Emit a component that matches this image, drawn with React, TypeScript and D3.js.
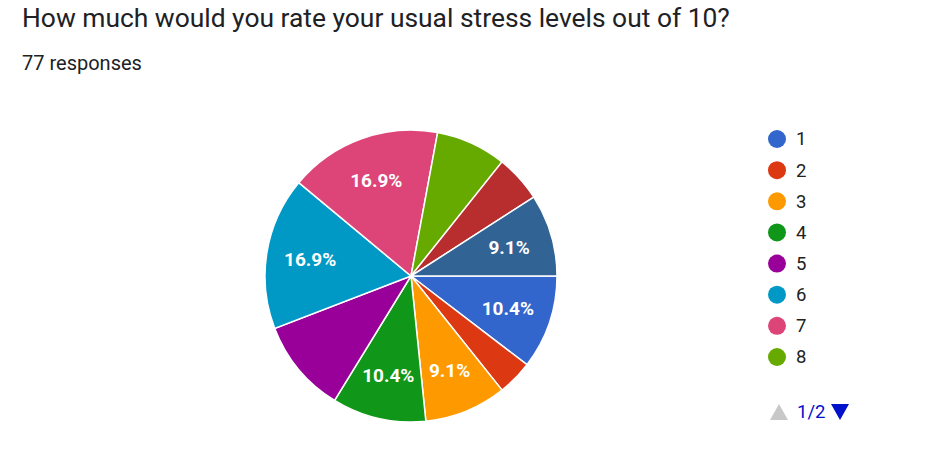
import { useEffect, useRef } from "react";
import * as d3 from "d3";

// stress rating options and response counts (77 total)
const ratings = ["1", "2", "3", "4", "5", "6", "7", "8", "9", "10"];
const counts = [8, 3, 7, 8, 8, 13, 13, 6, 4, 7];
const colors = [
  "#3366cc",
  "#dc3912",
  "#ff9900",
  "#109618",
  "#990099",
  "#0099c6",
  "#dd4477",
  "#66aa00",
  "#b82e2e",
  "#316395",
];
// slices that show a percentage label in the original
const labeled = ["1", "3", "4", "6", "7", "10"];
// first legend page
const legendItems = ratings.slice(0, 8);

const title = "How much would you rate your usual stress levels out of 10?";
const subtitle = "77 responses";

interface Slice {
  key: string;
  value: number;
  color: string;
}

export default function App() {
  const svgRef = useRef<SVGSVGElement>(null);

  useEffect(() => {
    if (!svgRef.current) return;
    const svg = d3.select(svgRef.current);
    svg.selectAll("*").remove();

    const width = 950;
    const height = 456;
    const font = "Roboto, Arial, sans-serif";

    svg.append("rect").attr("width", width).attr("height", height).attr("fill", "#fff");

    // Header
    svg
      .append("text")
      .attr("x", 22)
      .attr("y", 27)
      .attr("fill", "#202124")
      .style("font-family", font)
      .style("font-size", "26.4px")
      .text(title);

    svg
      .append("text")
      .attr("x", 22)
      .attr("y", 70)
      .attr("fill", "#202124")
      .style("font-family", font)
      .style("font-size", "20px")
      .text(subtitle);

    const data: Slice[] = ratings.map((k, i) => ({
      key: k,
      value: counts[i],
      color: colors[i],
    }));
    const total = d3.sum(counts);

    const cx = 411;
    const cy = 276;
    const radius = 146;

    const pie = d3
      .pie<Slice>()
      .sort(null)
      .value((d) => d.value)
      .startAngle(Math.PI / 2)
      .endAngle(Math.PI / 2 + 2 * Math.PI);

    const arc = d3.arc<d3.PieArcDatum<Slice>>().innerRadius(0).outerRadius(radius);
    const labelArc = d3
      .arc<d3.PieArcDatum<Slice>>()
      .innerRadius(radius * 0.7)
      .outerRadius(radius * 0.7);

    const g = svg.append("g").attr("transform", `translate(${cx},${cy})`);
    const arcs = pie(data);

    g.selectAll("path")
      .data(arcs)
      .join("path")
      .attr("d", arc)
      .attr("fill", (d) => d.data.color)
      .attr("stroke", "#fff")
      .attr("stroke-width", 1.5);

    g.selectAll("text")
      .data(arcs.filter((d) => labeled.includes(d.data.key)))
      .join("text")
      .attr("transform", (d) => `translate(${labelArc.centroid(d)})`)
      .attr("text-anchor", "middle")
      .attr("dy", "0.35em")
      .attr("fill", "#fff")
      .style("font-family", font)
      .style("font-size", "19px")
      .style("font-weight", "700")
      .text((d) => `${((d.data.value / total) * 100).toFixed(1)}%`);

    // Legend
    const legendY = d3
      .scalePoint<string>()
      .domain(legendItems)
      .range([139, 357]);

    const legend = svg
      .append("g")
      .selectAll("g")
      .data(legendItems)
      .join("g")
      .attr("transform", (d) => `translate(777,${legendY(d)})`);

    legend
      .append("circle")
      .attr("r", 9)
      .attr("fill", (d) => colors[ratings.indexOf(d)]);

    legend
      .append("text")
      .attr("x", 19)
      .attr("dy", "0.35em")
      .attr("fill", "#222")
      .style("font-family", font)
      .style("font-size", "18.5px")
      .text((d) => d);

    // Pagination
    const pager = svg.append("g").attr("transform", "translate(0,412)");
    pager
      .append("path")
      .attr("d", "M770,8 L788,8 L779,-8 Z")
      .attr("fill", "#c8c8c8");
    pager
      .append("text")
      .attr("x", 797)
      .attr("dy", "0.35em")
      .attr("fill", "#0011cc")
      .style("font-family", font)
      .style("font-size", "18.5px")
      .text("1/2");
    pager
      .append("path")
      .attr("d", "M831,-8 L849,-8 L840,8 Z")
      .attr("fill", "#0011cc");
  }, []);

  return (
    <svg
      ref={svgRef}
      width={950}
      height={456}
      style={{ position: "absolute", left: 0, top: 0 }}
    />
  );
}
